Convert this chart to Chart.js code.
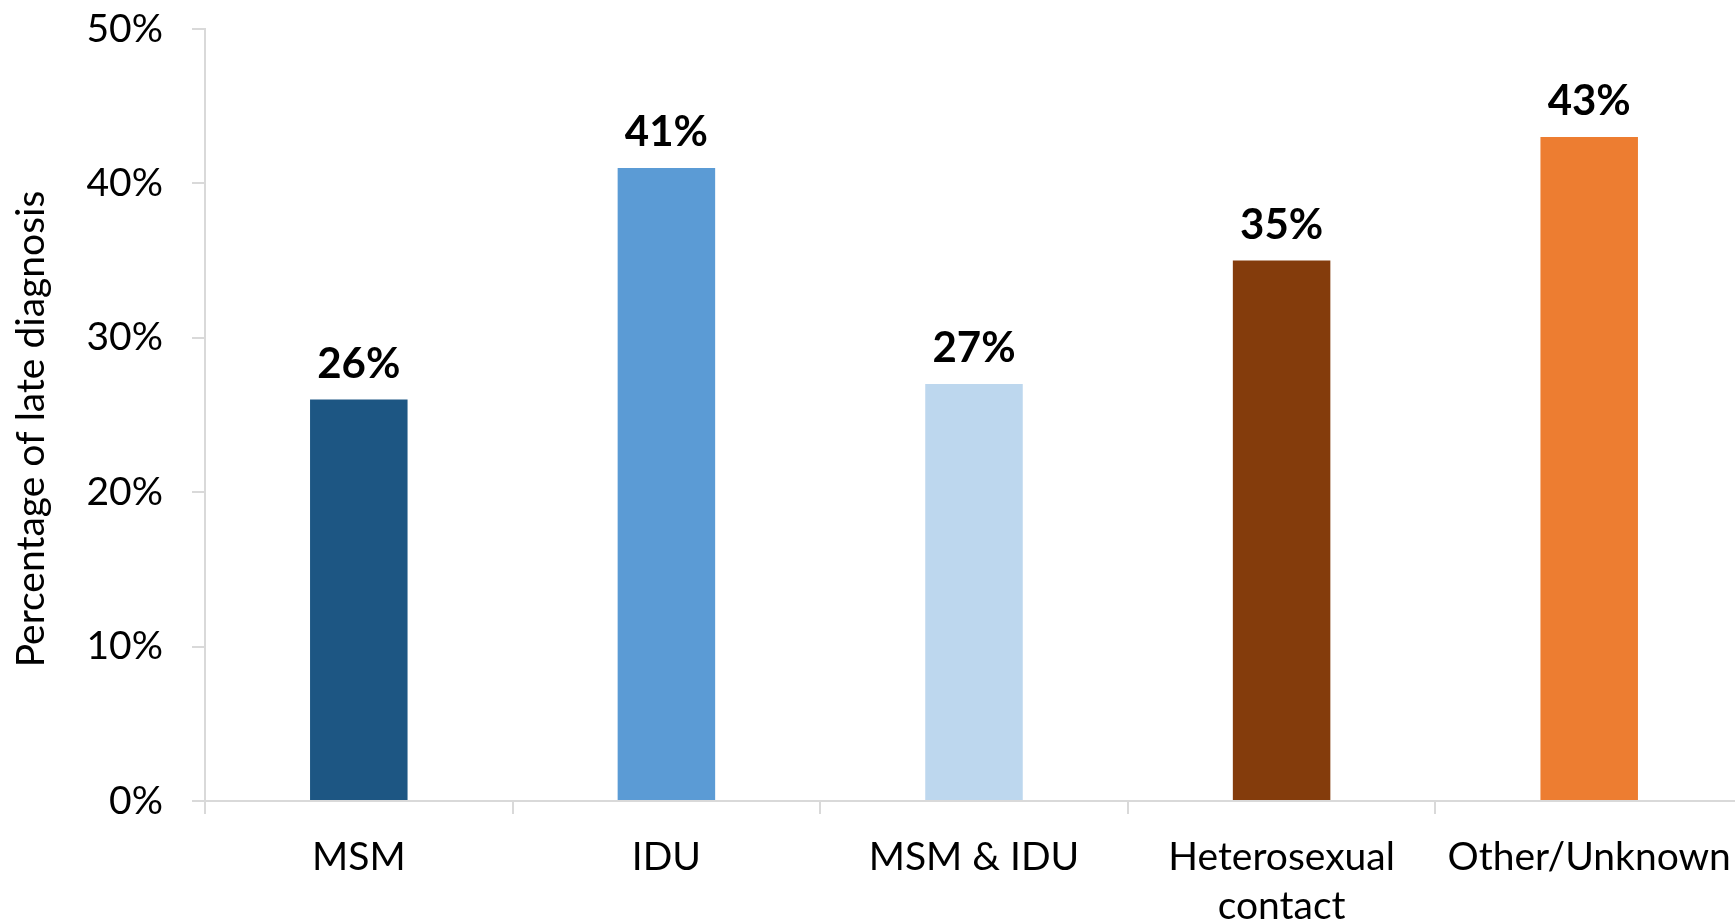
<!DOCTYPE html>
<html>
<head>
<meta charset="utf-8">
<script src="https://cdn.jsdelivr.net/npm/chart.js@4"></script>
<style>
  html, body { margin: 0; padding: 0; background: #fff; overflow: hidden; }
  #wrap { width: 1745px; height: 924px; }
</style>
</head>
<body>
<div id="wrap"><canvas id="c" width="1745" height="924"></canvas></div>
<script>
const categories = ["MSM", "IDU", "MSM & IDU", ["Heterosexual", "contact"], "Other/Unknown"];
const lateDiagnosisPct = [26, 41, 27, 35, 43];
const barColors = ["#1D5683", "#5B9BD5", "#BDD7EE", "#843C0C", "#ED7D31"];
const yTicks = [0, 10, 20, 30, 40, 50];
const yAxisTitle = "Percentage of late diagnosis";

const FONT = "Lato, 'Open Sans', sans-serif";

const valueLabels = {
  id: 'valueLabels',
  afterDatasetsDraw(chart) {
    const ctx = chart.ctx;
    const meta = chart.getDatasetMeta(0);
    ctx.save();
    ctx.font = "bold 42px " + FONT;
    ctx.fillStyle = "#000";
    ctx.textAlign = "center";
    ctx.textBaseline = "alphabetic";
    meta.data.forEach((bar, i) => {
      ctx.fillText(lateDiagnosisPct[i] + "%", bar.x, bar.y - 22);
    });
    ctx.restore();
  }
};

const yTitle = {
  id: 'yTitle',
  afterDraw(chart) {
    const ctx = chart.ctx;
    const area = chart.chartArea;
    ctx.save();
    ctx.font = "39px " + FONT;
    ctx.fillStyle = "#000";
    ctx.textAlign = "center";
    ctx.textBaseline = "middle";
    ctx.translate(31, (area.top + area.bottom) / 2 + 14);
    ctx.rotate(-Math.PI / 2);
    ctx.fillText(yAxisTitle, 0, 0);
    ctx.restore();
  }
};

new Chart(document.getElementById('c'), {
  type: 'bar',
  data: {
    labels: categories,
    datasets: [{
      data: lateDiagnosisPct,
      backgroundColor: barColors,
      borderWidth: 0,
      categoryPercentage: 0.317,
      barPercentage: 1.0
    }]
  },
  options: {
    responsive: false,
    animation: false,
    devicePixelRatio: 1,
    layout: { padding: { top: 29, right: 2, left: 0, bottom: 0 } },
    plugins: { legend: { display: false }, tooltip: { enabled: false } },
    scales: {
      x: {
        grid: { display: true, offset: true, drawOnChartArea: false, tickLength: 13, color: "#D9D9D9", lineWidth: 2 },
        border: { display: true, color: "#D9D9D9", width: 2 },
        ticks: { color: "#000", font: { family: FONT, size: 39, lineHeight: 1.28 }, padding: 18, maxRotation: 0, autoSkip: false },
        afterFit(scale) { scale.height = 123; scale.paddingLeft = 0; scale.paddingRight = 0; }
      },
      y: {
        min: 0, max: 50,
        afterBuildTicks(scale) { scale.ticks = yTicks.map(v => ({ value: v })); },
        grid: { display: true, drawOnChartArea: false, tickLength: 13, color: "#D9D9D9", lineWidth: 2 },
        border: { display: true, color: "#D9D9D9", width: 2 },
        ticks: { color: "#000", font: { family: FONT, size: 39 }, padding: 29, callback: v => v + "%" },
        title: { display: false },
        afterFit(scale) { scale.width = 205; scale.paddingTop = 0; scale.paddingBottom = 0; }
      }
    }
  },
  plugins: [valueLabels, yTitle]
});
</script>
</body>
</html>
